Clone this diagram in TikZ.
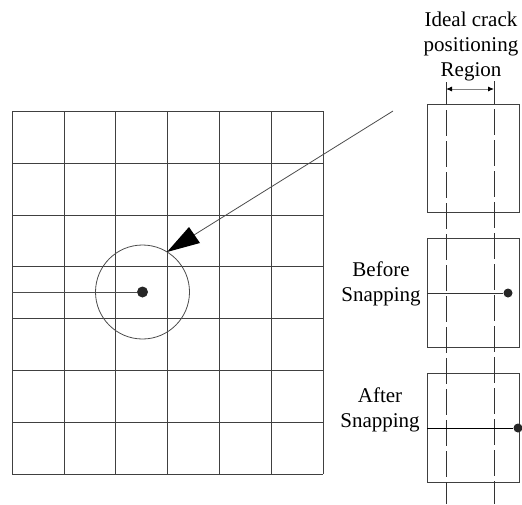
\documentclass[tikz,border=0pt]{standalone}
\usepackage{fontspec}
\setmainfont{Liberation Serif}
\usetikzlibrary{arrows.meta}
\tikzset{
  gridline/.style={draw=black!75,line width=0.9pt},
  thinline/.style={draw=black!70,line width=0.8pt},
  boxshape/.style={draw=black!75,line width=0.9pt,fill=none},
  guideline/.style={draw=black!80,line width=0.9pt,dash pattern=on 26pt off 5pt,dash phase=3pt},
  dotmark/.style={circle,fill=black!85,draw=none,inner sep=0pt,minimum size=#1},
  caption/.style={align=center,font=\fontsize{21}{24.6}\selectfont,inner sep=0pt},
}
\begin{document}
\begin{tikzpicture}[x=1pt,y=-1pt]
\useasboundingbox (0,0) rectangle (522,504);
% grid
\foreach \x in {12,64,115.5,167,219,271,323} \draw[gridline] (\x,111) -- (\x,474);
\foreach \y in {111,163,215,266,318.5,370,422,474} \draw[gridline] (12,\y) -- (323,\y);
% focus circle and crack
\node[dotmark=11pt] (tip) at (142.5,292) {};
\coordinate (crackstart) at (12,292);
\draw[thinline] (crackstart) -- (tip);
\draw[thinline] (142.5,292) circle (47);
% leader arrow
\coordinate (leadstart) at (393,111);
\coordinate (leadend) at (167,252);
\coordinate (leadbase) at (194,235);
\draw[thinline] (leadstart) -- (leadbase);
\fill[black] (leadend) -- (189,227) -- (200,243) -- cycle;
% right panels
\node[boxshape,minimum width=92pt,minimum height=108pt,inner sep=0pt,anchor=north west] (boxa) at (427,104) {};
\node[boxshape,minimum width=92pt,minimum height=109pt,inner sep=0pt,anchor=north west] (boxb) at (427,238) {};
\node[boxshape,minimum width=92pt,minimum height=109pt,inner sep=0pt,anchor=north west] (boxc) at (427,373) {};
% guides
\coordinate (gla) at (446,82);
\coordinate (glb) at (446,504);
\coordinate (gra) at (494,81);
\coordinate (grb) at (494,504);
\draw[guideline] (gla) -- (glb);
\draw[guideline] (gra) -- (grb);
% dimension
\coordinate (dl) at (446,89);
\coordinate (dr) at (494,89);
\draw[draw=black!50,line width=0.9pt,{Latex[length=6pt,width=5pt,black]}-{Latex[length=6pt,width=5pt,black]}] (dl) -- (dr);
% cracks
\node[dotmark=9pt] (dotb) at (508,293) {};
\draw[draw=black!80,line width=0.9pt] (boxb.west |- dotb) -- (dotb);
\node[dotmark=9pt] (dotc) at (518,428) {};
\draw[draw=black,line width=0.9pt] (boxc.west |- dotc) -- (dotc);
% labels
\node[caption] (ideal) at (471,46.5) {Ideal crack\\positioning\\Region};
\node[caption] (before) at (381,284) {Before\\Snapping};
\node[caption] (after) at (380,410) {After\\Snapping};
\end{tikzpicture}
\end{document}
